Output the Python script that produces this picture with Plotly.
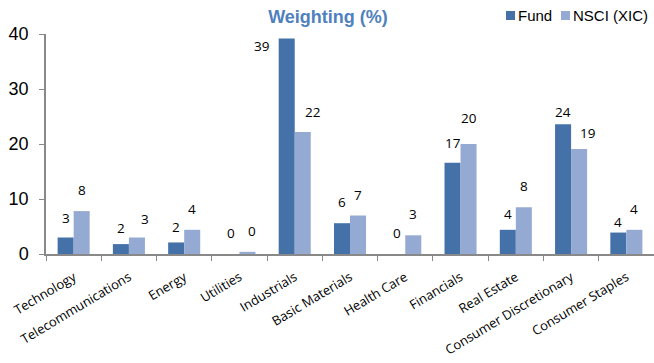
import plotly.graph_objects as go

# ---- data ----
categories = ["Technology", "Telecommunications", "Energy", "Utilities", "Industrials",
              "Basic Materials", "Health Care", "Financials", "Real Estate",
              "Consumer Discretionary", "Consumer Staples"]
fund = [3.0, 1.8, 2.1, 0.0, 39.2, 5.6, 0.0, 16.6, 4.4, 23.6, 3.9]
nsci = [7.8, 3.0, 4.4, 0.4, 22.2, 7.0, 3.4, 20.0, 8.5, 19.1, 4.4]
series_names = ["Fund", "NSCI (XIC)"]
y_ticks = [0, 10, 20, 30, 40]

# ---- style ----
FUND_COLOR = "#4472A8"
NSCI_COLOR = "#95AAD2"
TITLE_COLOR = "#4F81BD"
AXIS_COLOR = "#898989"
W, H = 654, 363
ML, MR, MT, MB = 46, 0, 34, 109
BARGAP = 0.42

# per-label pixel nudges (label placement like the original)
fund_dx = [0, 0, 0, 0, -25, 0, 0, 0, 0, 0, 0]
fund_dy = [20, 16, 15, 21, -8, 21, 21, 20, 16, 12, 11]
nsci_dx = [0, 8, 0, 5, 10, 0, 0, 0, 0, 8, 0]
nsci_dy = [21, 19, 21, 21, 20, 21, 21, 26, 21, 16, 21]

fig = go.Figure()
fig.add_trace(go.Bar(x=categories, y=fund, name=series_names[0], marker_color=FUND_COLOR,
                     marker_line_width=0))
fig.add_trace(go.Bar(x=categories, y=nsci, name=series_names[1], marker_color=NSCI_COLOR,
                     marker_line_width=0))

bw = (1 - BARGAP) / 2
label_font = dict(family="Open Sans, sans-serif", size=13.5, color="#000000")
anns = []
for i in range(len(categories)):
    anns.append(dict(x=i - bw / 2, y=fund[i], xref="x", yref="y", text=f"{fund[i]:.0f}",
                     showarrow=False, xshift=fund_dx[i], yshift=fund_dy[i],
                     yanchor="middle", font=label_font))
    anns.append(dict(x=i + bw / 2, y=nsci[i], xref="x", yref="y", text=f"{nsci[i]:.0f}",
                     showarrow=False, xshift=nsci_dx[i], yshift=nsci_dy[i],
                     yanchor="middle", font=label_font))

pw, ph = W - ML - MR, H - MT - MB
def px(x):
    return (x - ML) / pw
def py(y):
    return (H - MB - y) / ph

# manual legend
shapes = [
    dict(type="rect", xref="paper", yref="paper", x0=px(506), x1=px(515), y0=py(20), y1=py(11),
         fillcolor=FUND_COLOR, line_width=0),
    dict(type="rect", xref="paper", yref="paper", x0=px(561), x1=px(570), y0=py(20), y1=py(11),
         fillcolor=NSCI_COLOR, line_width=0),
]
leg_font = dict(family="Liberation Sans, Arial, sans-serif", size=15, color="#000000")
anns.append(dict(x=px(516), y=py(15.5), xref="paper", yref="paper", text=series_names[0],
                 showarrow=False, xanchor="left", yanchor="middle", font=leg_font))
anns.append(dict(x=px(571), y=py(15.5), xref="paper", yref="paper", text=series_names[1],
                 showarrow=False, xanchor="left", yanchor="middle", font=leg_font))

fig.update_layout(
    width=W, height=H,
    margin=dict(l=ML, r=MR, t=MT, b=MB),
    paper_bgcolor="white", plot_bgcolor="white",
    barmode="group", bargap=BARGAP, bargroupgap=0,
    showlegend=False,
    title=dict(text="<b>Weighting (%)</b>", x=328 / W, xanchor="center",
               y=1 - 17 / H, yanchor="middle",
               font=dict(family="Liberation Sans, Arial, sans-serif", size=18, color=TITLE_COLOR)),
    annotations=anns,
    shapes=shapes,
)
fig.update_xaxes(
    type="category", showline=True, linecolor=AXIS_COLOR, linewidth=1.5,
    ticks="outside", tickson="boundaries", ticklen=5, tickcolor=AXIS_COLOR,
    tickangle=-31, showgrid=False, ticklabelstandoff=9,
    tickfont=dict(family="Open Sans, sans-serif", size=13, color="#000000"),
)
fig.update_yaxes(
    range=[0, 40], tickvals=y_ticks, showline=True, linecolor=AXIS_COLOR, linewidth=1.5,
    ticks="outside", ticklen=5, tickcolor=AXIS_COLOR, showgrid=False, zeroline=False,
    ticklabelstandoff=7,
    tickfont=dict(family="Liberation Sans, Arial, sans-serif", size=18, color="#000000"),
)

fig.write_html("out.html")
